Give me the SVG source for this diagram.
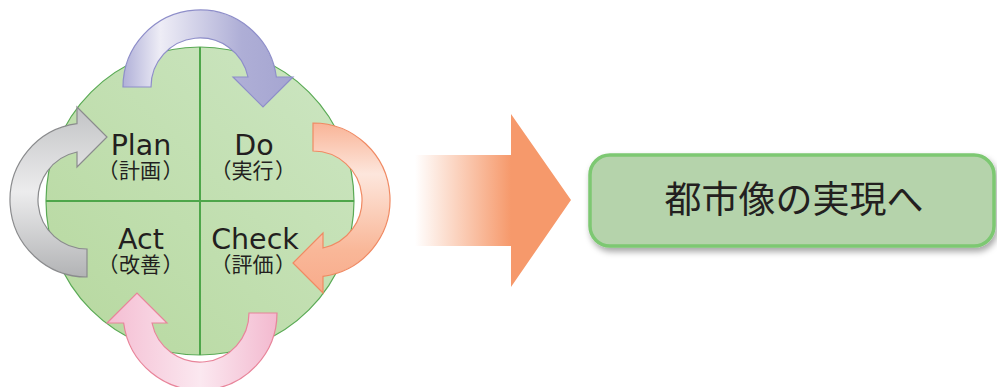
<svg xmlns="http://www.w3.org/2000/svg" width="997" height="387" viewBox="0 0 997 387">
<style>
.lbl{font-family:"DejaVu Sans","Liberation Sans",sans-serif;font-size:28.5px;fill:#231f20;text-anchor:middle}
.sub{font-family:"Noto Sans CJK JP",sans-serif;font-size:21px;fill:#231f20;text-anchor:middle}
.goal{font-family:"Noto Sans CJK JP",sans-serif;font-size:37px;fill:#231f20;text-anchor:middle}
.div{stroke:#4ea64a;stroke-width:2;fill:none}
</style>
<defs>
<linearGradient id="gGreen" x1="1" y1="0" x2="0" y2="1">
<stop offset="0" stop-color="#cde6c3"/>
<stop offset="1" stop-color="#b6d89e"/>
</linearGradient>
<linearGradient id="gPurple" x1="0" y1="0" x2="1" y2="0">
<stop offset="0" stop-color="#b0b0d8"/>
<stop offset="0.22" stop-color="#eeedf6"/>
<stop offset="0.7" stop-color="#aeaed6"/>
<stop offset="1" stop-color="#a5a5d1"/>
</linearGradient>
<linearGradient id="gOrange" x1="0" y1="0" x2="1" y2="0">
<stop offset="0" stop-color="#f9b497"/>
<stop offset="0.3" stop-color="#fde6dc"/>
<stop offset="0.75" stop-color="#f9b798"/>
<stop offset="1" stop-color="#f8ab8b"/>
</linearGradient>
<linearGradient id="gPink" x1="0" y1="0" x2="1" y2="0">
<stop offset="0" stop-color="#f3b9cf"/>
<stop offset="0.45" stop-color="#fbe8f0"/>
<stop offset="1" stop-color="#f4bdd2"/>
</linearGradient>
<linearGradient id="gGray" x1="0" y1="0" x2="1" y2="0">
<stop offset="0" stop-color="#b2b3b5"/>
<stop offset="0.5" stop-color="#ececed"/>
<stop offset="1" stop-color="#c2c3c5"/>
</linearGradient>
<linearGradient id="gBig" gradientUnits="userSpaceOnUse" x1="415" y1="0" x2="511" y2="0">
<stop offset="0" stop-color="#f6996b" stop-opacity="0"/>
<stop offset="1" stop-color="#f6996b" stop-opacity="1"/>
</linearGradient>
<path id="arc" d="M123,87 A77,77 0 0 1 276.35,77 L293,77 L263,107 L233,77 L247.97,77 A49,49 0 0 0 151,87 Z"/>
<filter id="shadow" x="-10%" y="-20%" width="120%" height="160%">
<feDropShadow dx="2" dy="4" stdDeviation="3" flood-color="#000" flood-opacity="0.35"/>
</filter>
</defs>

<g id="cycle">
<circle cx="200" cy="201" r="154" fill="url(#gGreen)" stroke="#5aaa55" stroke-width="1.2"/>
<line class="div" x1="200" y1="47" x2="200" y2="355"/>
<line class="div" x1="46" y1="201" x2="354" y2="201"/>
</g>

<g id="connectors">
<use href="#arc" fill="url(#gPurple)" stroke="#8e8ec9" stroke-width="1.2"/>
<use href="#arc" transform="rotate(90 200 200)" fill="url(#gOrange)" stroke="#f08a63" stroke-width="1.2"/>
<use href="#arc" transform="rotate(180 200 200)" fill="url(#gPink)" stroke="#e8849a" stroke-width="1.2"/>
<use href="#arc" transform="rotate(270 200 200)" fill="url(#gGray)" stroke="#8a8b8d" stroke-width="1.2"/>
</g>

<g id="plan">
<text class="lbl"><tspan x="141" y="155">Plan</tspan><tspan class="sub" x="108" y="178">（</tspan><tspan class="sub" x="140" y="178">計画</tspan><tspan class="sub" x="173" y="178">）</tspan></text>
</g>
<g id="do">
<text class="lbl"><tspan x="254" y="155">Do</tspan><tspan class="sub" x="221" y="178">（</tspan><tspan class="sub" x="252.5" y="178">実行</tspan><tspan class="sub" x="285.5" y="178">）</tspan></text>
</g>
<g id="act">
<text class="lbl"><tspan x="141" y="249">Act</tspan><tspan class="sub" x="108" y="272">（</tspan><tspan class="sub" x="140" y="272">改善</tspan><tspan class="sub" x="173" y="272">）</tspan></text>
</g>
<g id="check">
<text class="lbl"><tspan x="255" y="249">Check</tspan><tspan class="sub" x="221" y="272">（</tspan><tspan class="sub" x="252.5" y="272">評価</tspan><tspan class="sub" x="285.5" y="272">）</tspan></text>
</g>

<g id="big-arrow">
<polygon points="415,155 511,155 511,114 571,200 511,287 511,246 415,246" fill="url(#gBig)"/>
</g>

<g id="goal">
<rect x="590" y="155" width="404" height="91" rx="20" ry="20" fill="#b5d3ab" stroke="#7dc872" stroke-width="3.5" filter="url(#shadow)"/>
<text class="goal" x="794" y="213">都市像の実現へ</text>
</g>
</svg>
